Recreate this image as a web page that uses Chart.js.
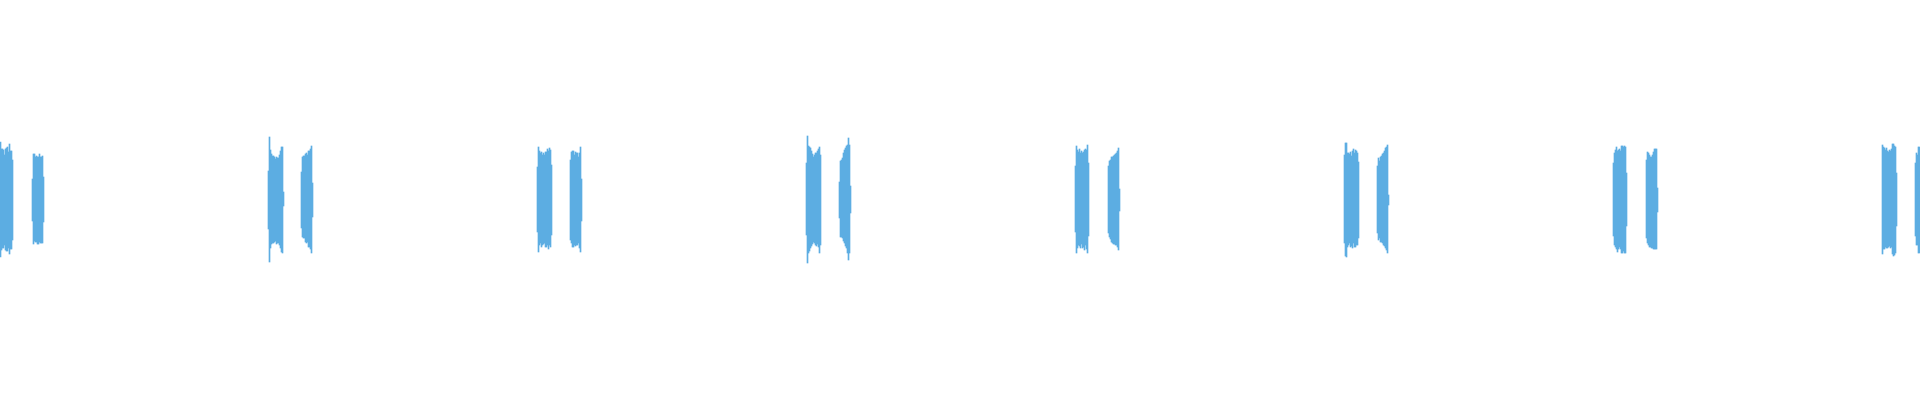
<!DOCTYPE html>
<html>
<head>
<meta charset="utf-8">
<script src="https://cdn.jsdelivr.net/npm/chart.js@4"></script>
<style>
  html, body { margin: 0; padding: 0; background: #ffffff; }
  #wrap { width: 1920px; height: 400px; position: relative; }
</style>
</head>
<body>
<div id="wrap"><canvas id="c"></canvas></div>
<script>
// Time bin (column index) where each burst of the waveform starts
const burstStart = [0, 32, 268, 301, 537, 570, 806, 839, 1075, 1108, 1344, 1377, 1613, 1646, 1882, 1915];

// Per-bin maximum amplitude of each burst (full scale = 1)
const burstHigh = [
  [.29,.255,.255,.25,.225,.255,.26,.265,.24,.28,.245,.245,.20],
  [.105,.23,.23,.215,.22,.215,.215,.23,.215,.215,.22,.115],
  [.145,.315,.25,.23,.22,.22,.215,.205,.215,.21,.21,.225,.245,.265,.265,.04],
  [.14,.215,.22,.22,.23,.235,.225,.245,.245,.255,.27,.085],
  [.165,.265,.245,.235,.24,.225,.235,.225,.24,.24,.255,.245,.26,.25,.175],
  [.20,.24,.245,.245,.225,.24,.235,.235,.215,.235,.265,.105],
  [.185,.32,.27,.265,.26,.245,.23,.215,.225,.235,.235,.245,.255,.265,.225],
  [.09,.195,.20,.21,.235,.25,.26,.27,.275,.31,.275,.07],
  [.17,.27,.25,.24,.255,.235,.245,.235,.24,.25,.255,.25,.275,.185],
  [.17,.195,.20,.215,.215,.22,.225,.23,.235,.245,.26,.055],
  [.225,.285,.285,.235,.235,.23,.24,.22,.245,.255,.235,.25,.245,.235,.19],
  [.17,.21,.195,.215,.22,.23,.235,.245,.26,.265,.275,.025],
  [.185,.235,.25,.265,.245,.25,.255,.245,.27,.27,.265,.27,.265,.135],
  [.20,.24,.235,.225,.215,.215,.225,.24,.255,.255,.255,.06],
  [.275,.265,.26,.25,.26,.245,.24,.25,.245,.255,.28,.28,.27,.265,.135],
  [.185,.235,.225,.265,.265]
];

// Per-bin minimum amplitude of each burst
const burstLow = [
  [-.285,-.25,-.24,-.24,-.225,-.25,-.255,-.255,-.24,-.27,-.245,-.245,-.20],
  [-.105,-.22,-.205,-.21,-.21,-.22,-.22,-.21,-.215,-.215,-.215,-.11],
  [-.145,-.31,-.24,-.22,-.215,-.215,-.21,-.205,-.22,-.215,-.215,-.225,-.24,-.26,-.265,-.03],
  [-.14,-.185,-.19,-.19,-.21,-.215,-.21,-.235,-.235,-.245,-.265,-.085],
  [-.16,-.26,-.225,-.215,-.235,-.225,-.22,-.215,-.235,-.235,-.225,-.245,-.225,-.235,-.175],
  [-.20,-.215,-.235,-.235,-.225,-.23,-.225,-.225,-.215,-.24,-.26,-.105],
  [-.175,-.315,-.265,-.255,-.24,-.23,-.22,-.21,-.215,-.225,-.23,-.22,-.235,-.265,-.225],
  [-.09,-.185,-.185,-.19,-.205,-.215,-.23,-.24,-.265,-.30,-.265,-.065],
  [-.16,-.265,-.24,-.225,-.23,-.24,-.22,-.24,-.235,-.25,-.225,-.245,-.265,-.18],
  [-.165,-.185,-.195,-.21,-.215,-.22,-.22,-.225,-.225,-.235,-.25,-.055],
  [-.215,-.28,-.285,-.235,-.225,-.215,-.235,-.23,-.24,-.215,-.235,-.235,-.225,-.225,-.19],
  [-.165,-.20,-.19,-.21,-.21,-.215,-.225,-.23,-.24,-.25,-.265,-.025],
  [-.18,-.225,-.235,-.245,-.26,-.245,-.235,-.245,-.265,-.265,-.255,-.265,-.265,-.13],
  [-.19,-.215,-.225,-.235,-.235,-.24,-.24,-.245,-.245,-.245,-.245,-.06],
  [-.27,-.245,-.245,-.235,-.24,-.24,-.235,-.23,-.24,-.235,-.27,-.28,-.275,-.265,-.13],
  [-.18,-.225,-.225,-.265,-.265]
];

const totalBins = 1920;

// Build floating-bar points [min, max] for every bin of every burst
const points = [];
burstStart.forEach((s, b) => {
  burstHigh[b].forEach((hi, i) => {
    points.push({ x: s + i, y: [burstLow[b][i], hi] });
  });
});

new Chart(document.getElementById('c'), {
  type: 'bar',
  data: {
    datasets: [{
      data: points,
      backgroundColor: '#5dade2',
      borderWidth: 0,
      barPercentage: 1,
      categoryPercentage: 1
    }]
  },
  options: {
    responsive: true,
    maintainAspectRatio: false,
    animation: false,
    layout: { padding: 0 },
    plugins: { legend: { display: false }, tooltip: { enabled: false } },
    scales: {
      x: { type: 'linear', offset: false, min: -0.5, max: totalBins - 0.5, display: false },
      y: { min: -1, max: 1, display: false }
    }
  }
});
</script>
</body>
</html>
